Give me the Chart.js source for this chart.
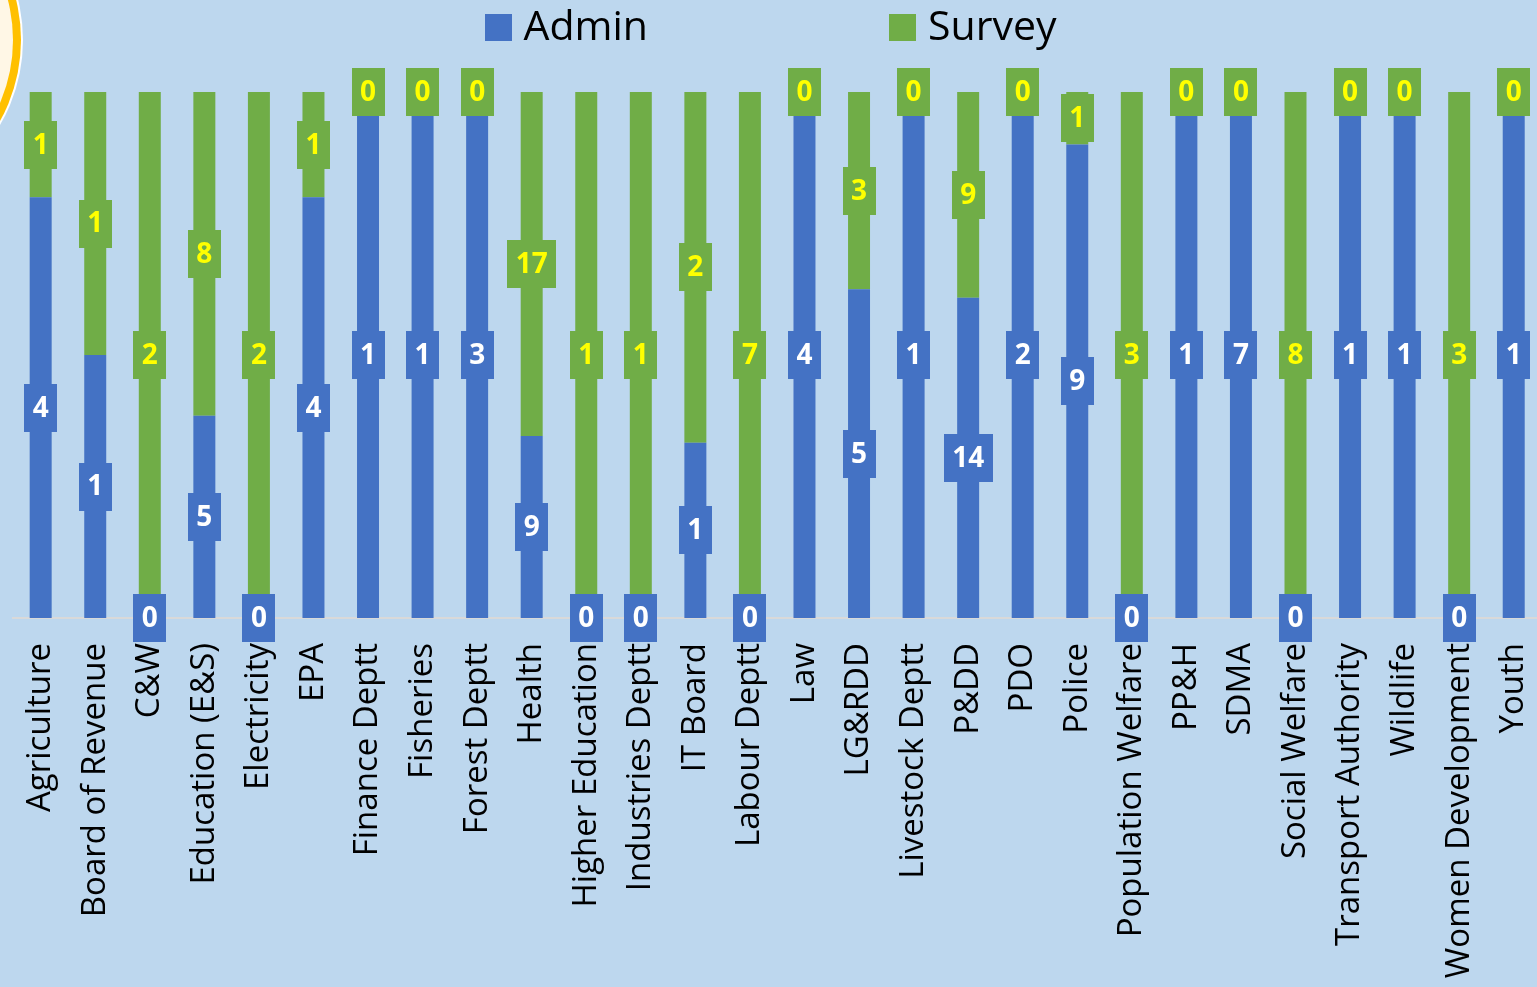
<!DOCTYPE html>
<html>
<head>
<meta charset="utf-8">
<script src="https://cdn.jsdelivr.net/npm/chart.js@4.4.1/dist/chart.umd.min.js"></script>
<style>
  html, body { margin: 0; padding: 0; background: #BDD7EE; overflow: hidden; }
  #wrap { position: relative; width: 1541px; height: 987px; }
</style>
</head>
<body>
<div id="wrap"><canvas id="c"></canvas></div>
<script>
const categories = ["Agriculture", "Board of Revenue", "C&W", "Education (E&S)", "Electricity", "EPA",
  "Finance Deptt", "Fisheries", "Forest Deptt", "Health", "Higher Education", "Industries Deptt",
  "IT Board", "Labour Deptt", "Law", "LG&RDD", "Livestock Deptt", "P&DD", "PDO", "Police",
  "Population Welfare", "PP&H", "SDMA", "Social Welfare", "Transport Authority", "Wildlife",
  "Women Development", "Youth"];
const adminCounts  = [4, 1, 0, 5, 0, 4, 1, 1, 3, 9, 0, 0, 1, 0, 4, 5, 1, 14, 2, 9, 0, 1, 7, 0, 1, 1, 0, 1];
const surveyCounts = [1, 1, 2, 8, 2, 1, 0, 0, 0, 17, 1, 1, 2, 7, 0, 3, 0, 9, 0, 1, 3, 0, 0, 8, 0, 0, 3, 0];
const seriesNames = ["Admin", "Survey"];

const BLUE = '#4472C4', GREEN = '#70AD47', BG = '#BDD7EE';

const totals = adminCounts.map((a, i) => a + surveyCounts[i]);
const adminPct = adminCounts.map((a, i) => a / totals[i] * 100);
const surveyPct = surveyCounts.map((s, i) => s / totals[i] * 100);
const rawCounts = [adminCounts, surveyCounts];
const labelStyles = [{ box: BLUE, text: '#FFFFFF' }, { box: GREEN, text: '#FFFF00' }];

const backgroundPlugin = {
  id: 'bg',
  beforeDraw(chart) {
    const ctx = chart.ctx;
    ctx.save();
    ctx.fillStyle = BG;
    ctx.fillRect(0, 0, chart.width, chart.height);
    // decorative badge in the top-left corner
    const cx = -146, cy = 40;
    ctx.beginPath(); ctx.arc(cx, cy, 169, 0, Math.PI * 2); ctx.fillStyle = '#FFFFFF'; ctx.fill();
    ctx.beginPath(); ctx.arc(cx, cy, 167, 0, Math.PI * 2); ctx.fillStyle = '#FFC000'; ctx.fill();
    ctx.beginPath(); ctx.arc(cx, cy, 159, 0, Math.PI * 2); ctx.fillStyle = '#FFF7E6'; ctx.fill();
    ctx.restore();
  }
};

const valueLabelPlugin = {
  id: 'valueLabels',
  afterDatasetsDraw(chart) {
    const ctx = chart.ctx;
    ctx.save();
    ctx.font = 'bold 28px "Open Sans"';
    ctx.textAlign = 'center';
    ctx.textBaseline = 'middle';
    chart.data.datasets.forEach((ds, di) => {
      const meta = chart.getDatasetMeta(di);
      meta.data.forEach((el, i) => {
        const p = el.getProps(['x', 'y', 'base'], true);
        const cy = (p.y + p.base) / 2;
        const txt = String(rawCounts[di][i]);
        const w = Math.max(33, ctx.measureText(txt).width + 17);
        const h = 48;
        ctx.fillStyle = labelStyles[di].box;
        ctx.fillRect(Math.round(p.x - w / 2), Math.round(cy - h / 2), Math.round(w), h);
        ctx.fillStyle = labelStyles[di].text;
        ctx.fillText(txt, p.x, cy + 1);
      });
    });
    ctx.restore();
  }
};

const legendPlugin = {
  id: 'customLegend',
  afterDraw(chart) {
    const ctx = chart.ctx;
    ctx.save();
    ctx.font = '41px "Open Sans"';
    ctx.textBaseline = 'middle';
    ctx.textAlign = 'left';
    const box = 27, gap = 12, itemGap = 241;
    const items = chart.data.datasets.map(ds => ({ label: ds.label, color: ds.backgroundColor, w: box + gap + ctx.measureText(ds.label).width }));
    const total = items.reduce((s, it) => s + it.w, 0) + itemGap * (items.length - 1);
    let x = chart.width / 2 - total / 2;
    const cy = 27.5;
    items.forEach(it => {
      ctx.fillStyle = it.color;
      ctx.fillRect(Math.round(x), Math.round(cy - box / 2), box, box);
      ctx.fillStyle = '#000000';
      ctx.fillText(it.label, x + box + gap, cy + 1);
      x += it.w + itemGap;
    });
    ctx.restore();
  }
};

new Chart(document.getElementById('c'), {
  type: 'bar',
  data: {
    labels: categories,
    datasets: [
      { label: seriesNames[0], data: adminPct, backgroundColor: BLUE, borderWidth: 0 },
      { label: seriesNames[1], data: surveyPct, backgroundColor: GREEN, borderWidth: 0 }
    ]
  },
  options: {
    responsive: true,
    maintainAspectRatio: false,
    animation: false,
    layout: { padding: { left: 13.4, right: 0, top: 92, bottom: 0 } },
    datasets: { bar: { barPercentage: 0.403, categoryPercentage: 1.0 } },
    plugins: { legend: { display: false }, tooltip: { enabled: false }, title: { display: false } },
    scales: {
      x: {
        stacked: true,
        grid: { display: false, drawTicks: false },
        border: { display: true, color: '#D9D9D9', width: 2 },
        ticks: {
          autoSkip: false, maxRotation: 90, minRotation: 90, padding: 25,
          color: '#000000', font: { family: '"Open Sans"', size: 33 }
        },
        afterFit(scale) {
          scale.height = 987 - 618;
          scale.paddingLeft = 0;
          scale.paddingRight = 0;
        }
      },
      y: { stacked: true, display: false, min: 0, max: 100 }
    }
  },
  plugins: [backgroundPlugin, valueLabelPlugin, legendPlugin]
});
</script>
</body>
</html>
